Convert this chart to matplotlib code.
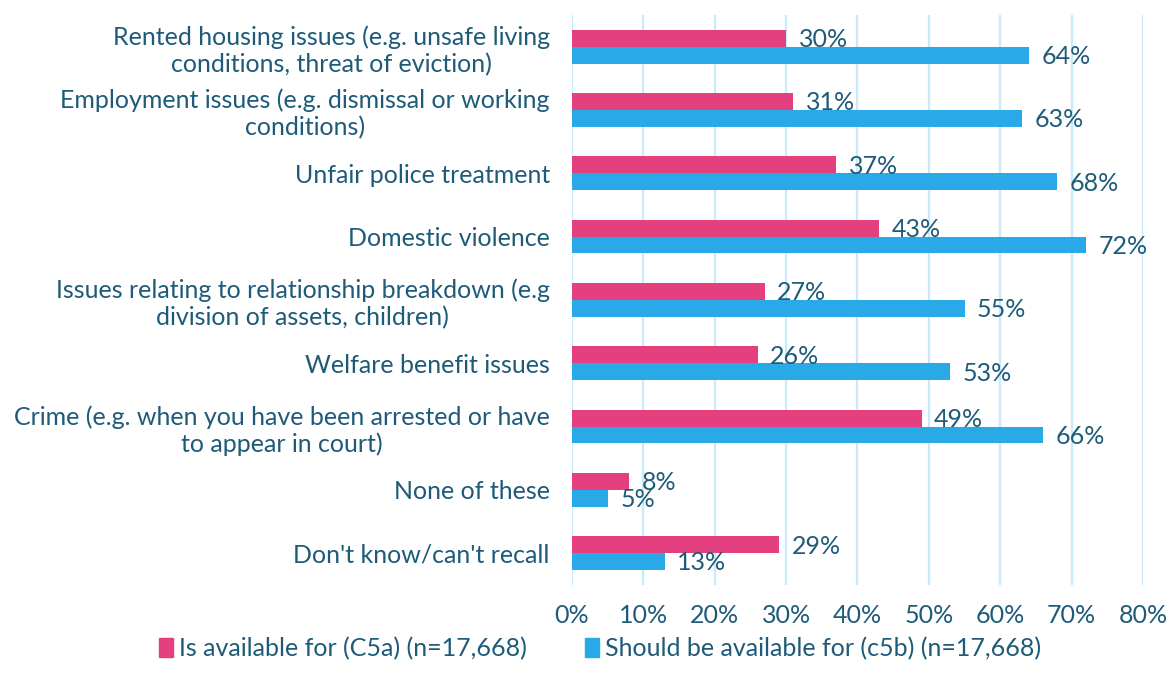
import numpy as np
import matplotlib.pyplot as plt
from matplotlib.patches import Patch

# Categorías y porcentajes de cada serie
categorias = [
    "Rented housing issues (e.g. unsafe living\nconditions, threat of eviction)",
    "Employment issues (e.g. dismissal or working\nconditions)",
    "Unfair police treatment",
    "Domestic violence",
    "Issues relating to relationship breakdown (e.g\ndivision of assets, children)",
    "Welfare benefit issues",
    "Crime (e.g. when you have been arrested or have\nto appear in court)",
    "None of these",
    "Don't know/can't recall",
]
disponible = [30, 31, 37, 43, 27, 26, 49, 8, 29]
deberia = [64, 63, 68, 72, 55, 53, 66, 5, 13]
etiquetas_x = ["0%", "10%", "20%", "30%", "40%", "50%", "60%", "70%", "80%"]
serie_nombres = ["Is available for (C5a) (n=17,668)",
                 "Should be available for (c5b) (n=17,668)"]

ROSA = "#e4407f"
AZUL = "#29a9e8"
TEXTO = "#1d5b79"
REJILLA = "#c8eafa"
TAM = 18

plt.rcParams['font.family'] = ['Lato', 'DejaVu Sans']

fig = plt.figure(figsize=(11.7, 6.84), dpi=100)
ax = fig.add_axes([0.4889, 0.145, 0.488, 0.833])

y = np.arange(len(categorias))
alto = 0.266

b1 = ax.barh(y - alto / 2, disponible, height=alto, color=ROSA, zorder=3)
b2 = ax.barh(y + alto / 2, deberia, height=alto, color=AZUL, zorder=3)

# Etiquetas de valor al final de cada barra
for barras, valores in [(b1, disponible), (b2, deberia)]:
    for barra, v in zip(barras, valores):
        ax.annotate(f"{v}%", (v, barra.get_y() + barra.get_height() / 2),
                    xytext=(9, -1), textcoords='offset points',
                    va='center', ha='left', fontsize=TAM, color=TEXTO, zorder=4)

ax.set_xlim(0, 80)
ax.set_ylim(len(categorias) - 0.5, -0.5)
ax.set_xticks(np.arange(0, 81, 10))
ax.set_xticklabels(etiquetas_x)
ax.set_yticks(y)
ax.set_yticklabels(categorias)
for lab in ax.get_yticklabels():
    lab.set_multialignment('center')

ax.tick_params(axis='both', length=0, labelsize=TAM, labelcolor=TEXTO)
ax.tick_params(axis='x', pad=14)
ax.tick_params(axis='y', pad=16)

ax.grid(axis='x', color=REJILLA, linewidth=1.6, zorder=0)
ax.set_axisbelow(True)
for s in ax.spines.values():
    s.set_visible(False)

handles = [Patch(color=ROSA), Patch(color=AZUL)]
fig.legend(handles, serie_nombres, loc='center', bbox_to_anchor=(0.513, 0.052),
           ncol=2, frameon=False, fontsize=TAM, labelcolor=TEXTO,
           handlelength=0.55, handleheight=0.8, handletextpad=0.25, columnspacing=2.3,
           borderpad=0.1)

fig.savefig("out.png", dpi=100)
